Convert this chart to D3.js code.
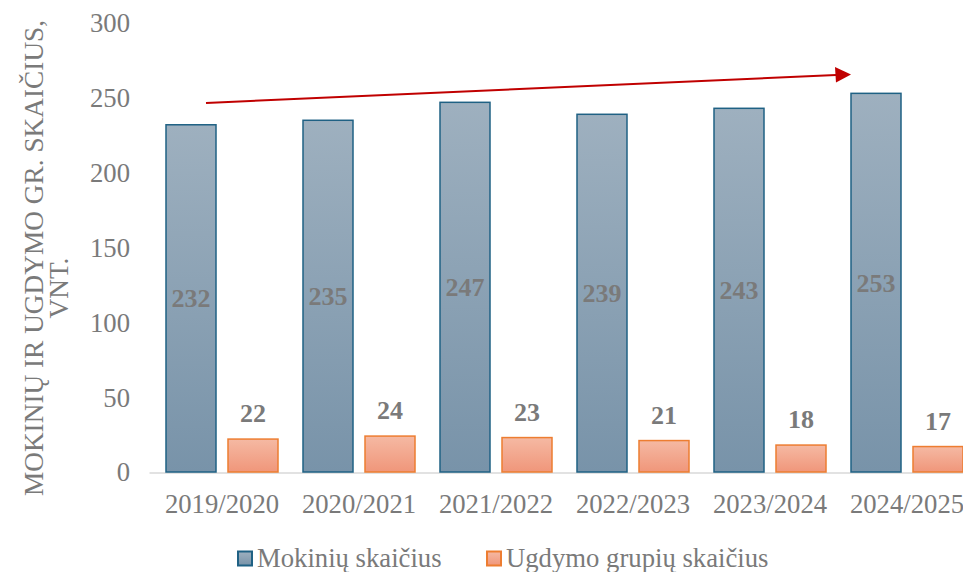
<!DOCTYPE html>
<html>
<head>
<meta charset="utf-8">
<script src="https://cdn.jsdelivr.net/npm/d3@7"></script>
<style>
  body { margin: 0; background: #fff; }
  text { font-family: "Liberation Serif", "Times New Roman", serif; }
</style>
</head>
<body>
<div id="chart"></div>
<script>
var years = ["2019/2020", "2020/2021", "2021/2022", "2022/2023", "2023/2024", "2024/2025"];
var mokiniai = [232, 235, 247, 239, 243, 253];
var grupes = [22, 24, 23, 21, 18, 17];
var yTicks = [0, 50, 100, 150, 200, 250, 300];
var seriesNames = ["Mokinių skaičius", "Ugdymo grupių skaičius"];

var W = 963, H = 572;
var plotLeft = 153.5, plotRight = 975.5, plotTop = 23, plotBottom = 472;

var svg = d3.select("#chart").append("svg")
    .attr("width", W).attr("height", H);

var defs = svg.append("defs");
function grad(id, c1, c2) {
    var g = defs.append("linearGradient").attr("id", id)
        .attr("x1", 0).attr("y1", 0).attr("x2", 0).attr("y2", 1);
    g.append("stop").attr("offset", "0%").attr("stop-color", c1);
    g.append("stop").attr("offset", "100%").attr("stop-color", c2);
}
grad("gBlue", "#9eb0bf", "#7893a9");
grad("gOrange", "#f5b9a3", "#f0967a");

var x = d3.scaleBand().domain(years).range([plotLeft, plotRight]);
var y = d3.scaleLinear().domain([0, 300]).range([plotBottom, plotTop]);

var barW = 50, gap = 12;
var grey = "#7a7a7a";

// y tick labels
svg.append("g").selectAll("text").data(yTicks).enter().append("text")
    .attr("x", 130).attr("y", function(d) { return y(d); })
    .attr("dy", "0.35em")
    .attr("text-anchor", "end")
    .attr("fill", grey)
    .attr("font-size", 26.7)
    .text(function(d) { return d; });

// axis title (second line sits a bit lower than the first one's centre)
var yt = svg.append("text")
    .attr("transform", "translate(0,258) rotate(-90)")
    .attr("text-anchor", "middle")
    .attr("fill", grey)
    .attr("font-size", 27.3);
yt.append("tspan").attr("x", 0).attr("y", 43).text("MOKINIŲ IR UGDYMO GR. SKAIČIUS,");
yt.append("tspan").attr("x", -30).attr("y", 68).text("VNT.");

// baseline
svg.append("line")
    .attr("x1", plotLeft - 4).attr("x2", W)
    .attr("y1", y(0) + 1).attr("y2", y(0) + 1)
    .attr("stroke", "#d9d9d9").attr("stroke-width", 1.5);

function cx(d) { return x(d) + x.bandwidth() / 2; }

// blue bars
svg.append("g").selectAll("rect").data(years).enter().append("rect")
    .attr("x", function(d) { return cx(d) - gap / 2 - barW; })
    .attr("y", function(d, i) { return y(mokiniai[i]); })
    .attr("width", barW)
    .attr("height", function(d, i) { return y(0) - y(mokiniai[i]); })
    .attr("fill", "url(#gBlue)")
    .attr("stroke", "#1f6184").attr("stroke-width", 1.5);

// orange bars
svg.append("g").selectAll("rect").data(years).enter().append("rect")
    .attr("x", function(d) { return cx(d) + gap / 2; })
    .attr("y", function(d, i) { return y(grupes[i]); })
    .attr("width", barW)
    .attr("height", function(d, i) { return y(0) - y(grupes[i]); })
    .attr("fill", "url(#gOrange)")
    .attr("stroke", "#ed7d31").attr("stroke-width", 1.5);

// blue labels, centered in bar
svg.append("g").selectAll("text").data(years).enter().append("text")
    .attr("x", function(d) { return cx(d) - gap / 2 - barW / 2; })
    .attr("y", function(d, i) { return (y(mokiniai[i]) + y(0)) / 2; })
    .attr("dy", "0.35em")
    .attr("text-anchor", "middle")
    .attr("font-weight", "bold")
    .attr("font-size", 26)
    .attr("fill", "#7a7a7a")
    .text(function(d, i) { return mokiniai[i]; });

// orange labels, above bar
svg.append("g").selectAll("text").data(years).enter().append("text")
    .attr("x", function(d) { return cx(d) + gap / 2 + barW / 2; })
    .attr("y", function(d, i) { return y(grupes[i]) - 26; })
    .attr("dy", "0.35em")
    .attr("text-anchor", "middle")
    .attr("font-weight", "bold")
    .attr("font-size", 26)
    .attr("fill", "#7a7a7a")
    .text(function(d, i) { return grupes[i]; });

// x labels
svg.append("g").selectAll("text").data(years).enter().append("text")
    .attr("x", cx)
    .attr("y", 513)
    .attr("text-anchor", "middle")
    .attr("font-size", 26.7)
    .attr("fill", grey)
    .text(function(d) { return d; });

// trend arrow
svg.append("line")
    .attr("x1", 206).attr("y1", 103).attr("x2", 836).attr("y2", 75)
    .attr("stroke", "#c00000").attr("stroke-width", 2);
svg.append("path")
    .attr("d", "M835,67 L851,74.5 L836,82.5 Z")
    .attr("fill", "#c00000");

// legend
var leg = svg.append("g");
var legX = [238, 487];
var legFill = ["url(#gBlue)", "url(#gOrange)"];
var legStroke = ["#1f6184", "#ed7d31"];
seriesNames.forEach(function(n, i) {
    leg.append("rect").attr("x", legX[i]).attr("y", 551.5)
        .attr("width", 14).attr("height", 14)
        .attr("fill", legFill[i]).attr("stroke", legStroke[i]).attr("stroke-width", 2);
    leg.append("text").attr("x", legX[i] + 19).attr("y", 567)
        .attr("font-size", 26.7).attr("fill", grey)
        .text(n);
});
</script>
</body>
</html>
